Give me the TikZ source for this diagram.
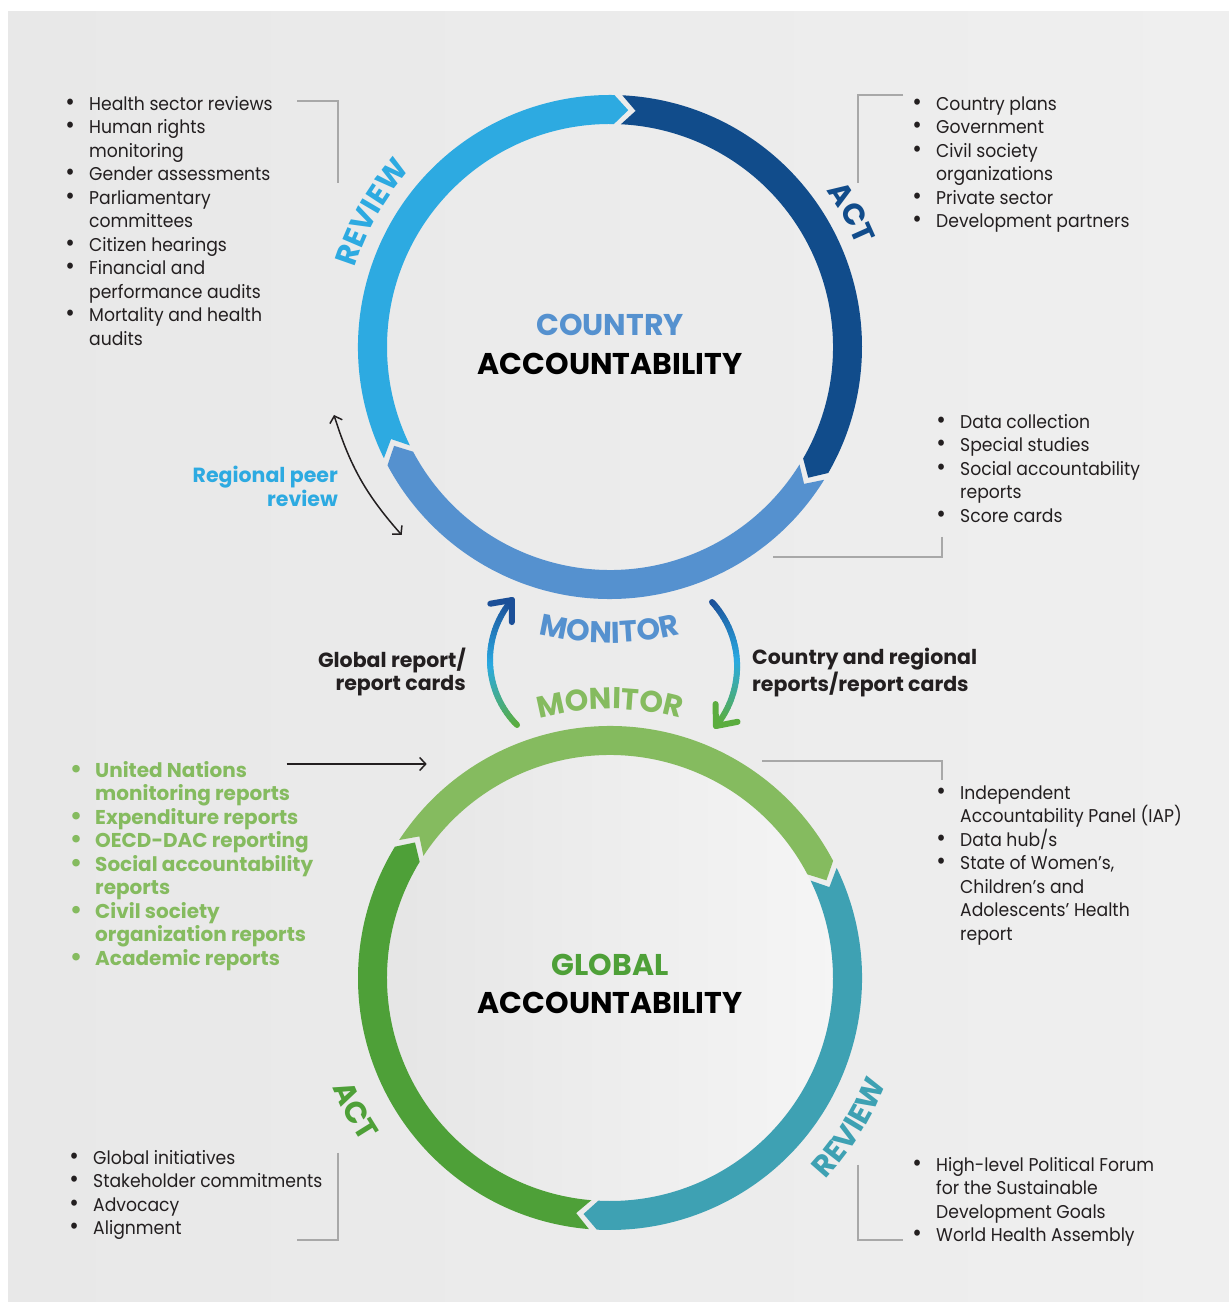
\documentclass[tikz,border=0pt]{standalone}
\usepackage{fontspec}
\setmainfont{Poppins}
\newfontfamily\listfont{Poppins}[FakeStretch=0.93]
\usetikzlibrary{calc,arrows.meta,decorations.text}

\definecolor{bgl}{HTML}{E8E8E8}
\definecolor{bgr}{HTML}{EFEFEF}
\definecolor{revblue}{HTML}{2DAAE1}
\definecolor{actblue}{HTML}{114C8B}
\definecolor{monblue}{HTML}{5591CF}
\definecolor{lgreen}{HTML}{85BB5F}
\definecolor{revteal}{HTML}{3EA1B3}
\definecolor{dgreen}{HTML}{4EA038}
\definecolor{txt}{HTML}{231F20}
\definecolor{brk}{HTML}{A8A8A8}
\definecolor{arrdark}{HTML}{1B4F98}
\definecolor{arrmid}{HTML}{2AAAE2}
\definecolor{arrgreen}{HTML}{5BAD3F}

% ring geometry
\def\ringout{252}
\def\ringin{223}
\def\ringmid{237.5}
\def\segdl{3.4}
\def\seggap{1.8}

% one chevron segment of a ring: centre, start angle, end angle, colour
\newcommand\ringseg[4]{%
  \fill[#4] ($(#1)+({#2-\seggap}:\ringout)$)
    arc[start angle={#2-\seggap}, end angle={#3}, radius=\ringout]
    -- ($(#1)+({#3-\segdl}:\ringmid)$) -- ($(#1)+(#3:\ringin)$)
    arc[start angle={#3}, end angle={#2-\seggap}, radius=\ringin]
    -- ($(#1)+({#2-\seggap-\segdl}:\ringmid)$) -- cycle;}

\newcommand\lblfont{\bfseries\fontsize{30}{32}\selectfont}
% fixed line height for the bullet lists
\newcommand\lstrut{\vrule height 17.5pt depth 6pt width 0pt}
\newcommand\itm{\lstrut\makebox[10pt][c]{\fontsize{25}{0}\selectfont\textbullet}\hspace*{14pt}}
\newcommand\cnt{\lstrut\hspace*{24pt}}

\begin{document}
\begin{tikzpicture}[x=1pt,y=1pt,
  listtext/.style={anchor=north west, inner sep=0pt, align=left, text=txt,
    font=\listfont\fontsize{18.5}{23.5}\selectfont},
  boldtext/.style={inner sep=0pt, text=txt,
    font=\bfseries\fontsize{20.5}{23}\selectfont},
  title/.style={inner sep=0pt, font=\bfseries\fontsize{30}{33}\selectfont},
  bracket/.style={draw=brk, line width=1.3pt},
  thinarrow/.style={draw=txt, line width=1.5pt,
    arrows={-Straight Barb[length=6pt,width=13pt]}},
  flowhead/.style={line width=6pt, line cap=round, line join=round}]

\useasboundingbox (0,0) rectangle (1229,1302);
\fill[white] (0,0) rectangle (1229,1302);
\shade[left color=bgl, right color=bgr] (8,0) rectangle (1229,1290);

\coordinate (c1) at (610,955);
\coordinate (c2) at (610,324);

% lighter disc inside the global ring
\shade[left color=black!10, right color=black!4] (c2) circle[radius=\ringin];

% country ring: review -> act -> monitor (clockwise)
\ringseg{c1}{208}{89}{revblue}
\ringseg{c1}{89}{-30}{actblue}
\ringseg{c1}{-30}{-152}{monblue}

% global ring: monitor -> review -> act (clockwise)
\ringseg{c2}{148.6}{27.7}{lgreen}
\ringseg{c2}{27.7}{-93}{revteal}
\ringseg{c2}{267}{148.6}{dgreen}

% titles
\node[title, text=monblue] (ctitle) at (610,977) {COUNTRY};
\node[title, text=black] (cacc) at (610,938) {ACCOUNTABILITY};
\node[title, text=dgreen] (gtitle) at (610,337) {GLOBAL};
\node[title, text=black] (gacc) at (610,299) {ACCOUNTABILITY};

% ring labels set along arcs
\path[decorate, decoration={text along path, text align=center,
  text={|\lblfont\color{revblue}|REVIEW}}]
  ($(c1)+(174:267)$) arc[start angle=174, end angle=127, radius=267];
\path[decorate, decoration={text along path, text align=center,
  text={|\lblfont\color{actblue}|ACT}}]
  ($(c1)+(45:267)$) arc[start angle=45, end angle=13, radius=267];
\path[decorate, decoration={text along path, text align=center,
  text={|\lblfont\color{monblue}|MONITOR}}]
  ($(c1)+(-114:296)$) arc[start angle=-114, end angle=-66, radius=296];
\path[decorate, decoration={text along path, text align=center,
  text={|\lblfont\color{lgreen}|MONITOR}}]
  ($(c2)+(114:269)$) arc[start angle=114, end angle=66, radius=269];
\path[decorate, decoration={text along path, text align=center,
  text={|\lblfont\color{dgreen}|ACT}}]
  ($(c2)+(190:298)$) arc[start angle=190, end angle=225, radius=298];
\path[decorate, decoration={text along path, text align=center,
  text={|\lblfont\color{revteal}|REVIEW}}]
  ($(c2)+(-57:295)$) arc[start angle=-57, end angle=-7, radius=295];

% report flows between the two rings, blue at the top fading to green
\coordinate (lac) at (582.2,642.2);
\coordinate (rac) at (642.2,635.7);
\foreach \i in {0,...,35}{
  \pgfmathsetmacro\aa{225-85.4*\i/36}
  \pgfmathsetmacro\ab{225-85.4*(\i+1)/36}
  \pgfmathtruncatemacro\hh{100*\i/35}
  \ifnum\hh<50
    \pgfmathtruncatemacro\pp{2*\hh}\colorlet{gc}{arrmid!\pp!arrgreen}
  \else
    \pgfmathtruncatemacro\pp{2*\hh-100}\colorlet{gc}{arrdark!\pp!arrmid}
  \fi
  \draw[gc, line width=6pt, line cap=round]
    ($(lac)+(\aa:92.2)$) arc[start angle=\aa, end angle=\ab, radius=92.2];
}
\foreach \i in {0,...,35}{
  \pgfmathsetmacro\aa{42.6-81.6*\i/36}
  \pgfmathsetmacro\ab{42.6-81.6*(\i+1)/36}
  \pgfmathtruncatemacro\hh{100-100*\i/35}
  \ifnum\hh<50
    \pgfmathtruncatemacro\pp{2*\hh}\colorlet{gc}{arrmid!\pp!arrgreen}
  \else
    \pgfmathtruncatemacro\pp{2*\hh-100}\colorlet{gc}{arrdark!\pp!arrmid}
  \fi
  \draw[gc, line width=6pt, line cap=round]
    ($(rac)+(\aa:94.9)$) arc[start angle=\aa, end angle=\ab, radius=94.9];
}
\coordinate (ltip) at ($(lac)+(139.6:92.2)$);
\coordinate (rtip) at ($(rac)+(-39:94.9)$);
\draw[arrdark, flowhead] ($(ltip)+(189.6:22)$) -- (ltip) -- ($(ltip)+(269.6:22)$);
\draw[arrgreen, flowhead] ($(rtip)+(91:22)$) -- (rtip) -- ($(rtip)+(11:22)$);

\node[boldtext, anchor=north east, align=right] (greport) at (466,654.5)
  {\strut Global report/\\\strut report cards};
\node[boldtext, anchor=north west, align=left] (creport) at (752,654.5)
  {\strut Country and regional\\\strut reports/report cards};

% regional peer review
\node[boldtext, text=revblue, anchor=north east, align=right,
  font=\bfseries\fontsize{20.5}{22.5}\selectfont] (peer) at (338,836)
  {\strut Regional peer\\\strut review};
\coordinate (peertop) at (334,887);
\coordinate (peerbot) at (401.7,767);
\draw[draw=txt, line width=1.5pt,
  arrows={Straight Barb[length=6pt,width=13pt]-Straight Barb[length=6pt,width=13pt]}]
  (peertop) to[bend right=12] (peerbot);

% country lists
\node[listtext] (ctl) at (65,1209.5) {%
  \itm Health sector reviews\\
  \itm Human rights\\
  \cnt monitoring\\
  \itm Gender assessments\\
  \itm Parliamentary\\
  \cnt committees\\
  \itm Citizen hearings\\
  \itm Financial and\\
  \cnt performance audits\\
  \itm Mortality and health\\
  \cnt audits};
\node[listtext] (ctr) at (912,1209.5) {%
  \itm Country plans\\
  \itm Government\\
  \itm Civil society\\
  \cnt organizations\\
  \itm Private sector\\
  \itm Development partners};
\node[listtext] (cmr) at (936,891.5) {%
  \itm Data collection\\
  \itm Special studies\\
  \itm Social accountability\\
  \cnt reports\\
  \itm Score cards};

% global lists
\node[listtext, text=lgreen, font=\bfseries\fontsize{20}{23.5}\selectfont]
  (gml) at (71,542.5) {%
  \itm United Nations\\
  \cnt monitoring reports\\
  \itm Expenditure reports\\
  \itm OECD-DAC reporting\\
  \itm Social accountability\\
  \cnt reports\\
  \itm Civil society\\
  \cnt organization reports\\
  \itm Academic reports};
\node[listtext] (gmr) at (936,520.5) {%
  \itm Independent\\
  \cnt Accountability Panel (IAP)\\
  \itm Data hub/s\\
  \itm State of Women’s,\\
  \cnt Children’s and\\
  \cnt Adolescents’ Health\\
  \cnt report};
\node[listtext] (gbl) at (69,155.5) {%
  \itm Global initiatives\\
  \itm Stakeholder commitments\\
  \itm Advocacy\\
  \itm Alignment};
\node[listtext] (gbr) at (912,148.5) {%
  \itm High-level Political Forum\\
  \cnt for the Sustainable\\
  \cnt Development Goals\\
  \itm World Health Assembly};

% feed of the green list into the global ring
\coordinate (feedin) at (286.7,538);
\coordinate (feedout) at (426.7,538);
\draw[thinarrow] (feedin) -- (feedout);

% brackets tying lists to ring segments
\coordinate (b1a) at (297,1201); \coordinate (b1b) at (338,1201); \coordinate (b1c) at (338,1119);
\draw[bracket] (b1a) -- (b1b) -- (b1c);
\coordinate (b2a) at (903,1207); \coordinate (b2b) at (858,1207); \coordinate (b2c) at (858,1119);
\draw[bracket] (b2a) -- (b2b) -- (b2c);
\coordinate (b3a) at (942,765); \coordinate (b3b) at (942,745); \coordinate (b3c) at (773,745);
\draw[bracket] (b3a) -- (b3b) -- (b3c);
\coordinate (b4a) at (762,541); \coordinate (b4b) at (942,541); \coordinate (b4c) at (942,522);
\draw[bracket] (b4a) -- (b4b) -- (b4c);
\coordinate (b5a) at (338,149); \coordinate (b5b) at (338,62); \coordinate (b5c) at (297,62);
\draw[bracket] (b5a) -- (b5b) -- (b5c);
\coordinate (b6a) at (858,137); \coordinate (b6b) at (858,62); \coordinate (b6c) at (903,62);
\draw[bracket] (b6a) -- (b6b) -- (b6c);

\end{tikzpicture}
\end{document}
